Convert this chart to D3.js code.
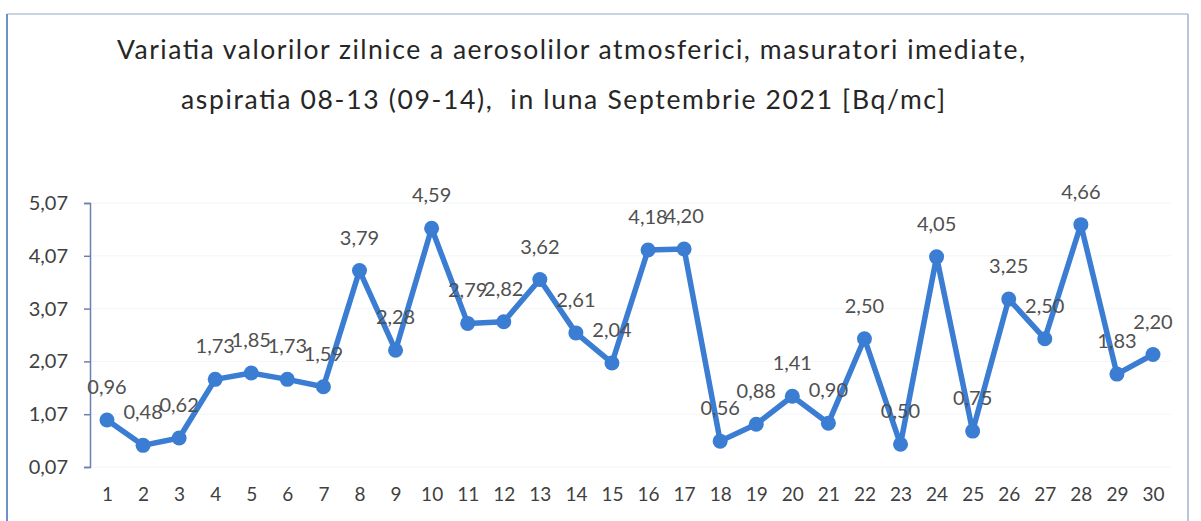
<!DOCTYPE html>
<html>
<head>
<meta charset="utf-8">
<title>Variatia valorilor zilnice a aerosolilor atmosferici</title>
<script src="https://cdn.jsdelivr.net/npm/d3@7"></script>
<style>
    body { margin: 0; background: #fff; }
    text { font-family: Lato, "Open Sans", sans-serif; }
</style>
</head>
<body>
<script>
    // zilele lunii si valorile masurate
    var days = d3.range(1, 31);
    var values = [0.96, 0.48, 0.62, 1.73, 1.85, 1.73, 1.59, 3.79, 2.28, 4.59,
        2.79, 2.82, 3.62, 2.61, 2.04, 4.18, 4.20, 0.56, 0.88, 1.41,
        0.90, 2.50, 0.50, 4.05, 0.75, 3.25, 2.50, 4.66, 1.83, 2.20];
    var yTicks = [0.07, 1.07, 2.07, 3.07, 4.07, 5.07];
    var titleLines = ["Variatia valorilor zilnice a aerosolilor atmosferici, masuratori imediate,",
        "aspiratia 08-13 (09-14),  in luna Septembrie 2021 [Bq/mc]"];

    var width = 1201, height = 521;
    var lineColor = "#3a7dd2";
    var fmt = function (v) { return v.toFixed(2).replace(".", ","); };

    var svg = d3.select("body").append("svg")
        .attr("width", width)
        .attr("height", height);

    // cadru
    svg.append("line").attr("x1", 7).attr("y1", 14).attr("x2", 1188).attr("y2", 14)
        .style("stroke", "#b8c4d8").style("stroke-width", 1.5);
    svg.append("line").attr("x1", 7).attr("y1", 14).attr("x2", 7).attr("y2", height)
        .style("stroke", "#6f8fc8").style("stroke-width", 2);
    svg.append("line").attr("x1", 1188).attr("y1", 14).attr("x2", 1188).attr("y2", height)
        .style("stroke", "#9fb3d6").style("stroke-width", 1.5);

    // titlu
    var titlePos = [{ x: 117, w: 908 }, { x: 181, w: 764 }];
    svg.selectAll(".title")
        .data(titleLines)
        .enter()
        .append("text")
        .attr("class", "title")
        .attr("x", (d, i) => titlePos[i].x)
        .attr("y", (d, i) => 59 + i * 50)
        .attr("textLength", (d, i) => titlePos[i].w)
        .attr("lengthAdjust", "spacing")
        .style("white-space", "pre")
        .style("font-size", "26.5px")
        .style("fill", "#262626")
        .text(d => d);

    var x = d3.scalePoint().domain(days).range([107, 1153]);
    var y = d3.scaleLinear().domain([0.07, 5.07]).range([467, 203]);

    // linii de grila foarte slabe
    svg.selectAll(".grid")
        .data(yTicks)
        .enter()
        .append("line")
        .attr("class", "grid")
        .attr("x1", 90).attr("x2", 1171)
        .attr("y1", d => y(d)).attr("y2", d => y(d))
        .style("stroke", "#f3f5f9")
        .style("stroke-width", 1);

    // axa Y
    var yAxis = d3.axisLeft(y).tickValues(yTicks).tickFormat(fmt).tickSize(6).tickPadding(16);
    var gy = svg.append("g")
        .attr("transform", "translate(90,0)")
        .call(yAxis);
    gy.select(".domain").style("stroke", "#6b7fb3").style("stroke-width", 1.5);
    gy.selectAll(".tick line").style("stroke", "#6b7fb3").style("stroke-width", 1.5);
    gy.selectAll(".tick text")
        .style("font-family", "Lato, sans-serif")
        .style("font-size", "20px")
        .style("fill", "#404040");

    // axa X (fara linie)
    var gx = svg.append("g")
        .attr("transform", "translate(0,480)")
        .call(d3.axisBottom(x).tickSize(0).tickPadding(8));
    gx.select(".domain").remove();
    gx.selectAll(".tick text")
        .style("font-family", "Lato, sans-serif")
        .style("font-size", "19px")
        .style("fill", "#404040");

    // serie
    var line = d3.line()
        .x((d, i) => x(days[i]))
        .y(d => y(d));

    svg.append("path")
        .datum(values)
        .attr("d", line)
        .style("fill", "none")
        .style("stroke", lineColor)
        .style("stroke-width", 5.5)
        .style("stroke-linejoin", "round");

    svg.selectAll(".marker")
        .data(values)
        .enter()
        .append("circle")
        .attr("class", "marker")
        .attr("cx", (d, i) => x(days[i]))
        .attr("cy", d => y(d))
        .attr("r", 7.5)
        .style("fill", lineColor);

    svg.selectAll(".label")
        .data(values)
        .enter()
        .append("text")
        .attr("class", "label")
        .attr("x", (d, i) => x(days[i]))
        .attr("y", d => y(d) - 26)
        .attr("text-anchor", "middle")
        .style("font-size", "20px")
        .style("fill", "#505050")
        .text(fmt);
</script>
</body>
</html>
